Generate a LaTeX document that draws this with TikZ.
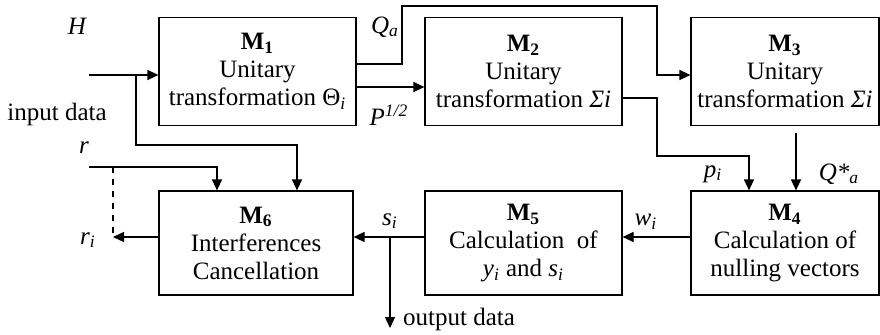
\documentclass[tikz,border=0pt]{standalone}
\usepackage{fontspec}
\setmainfont{Liberation Serif}
\usetikzlibrary{arrows.meta}
\tikzset{
  module/.style={draw,semithick,minimum height=54pt,inner sep=0pt,align=center,font=\fontsize{12.5}{14}\selectfont},
  lbl/.style={inner sep=0pt,font=\fontsize{12.5}{14}\selectfont\itshape},
}
\begin{document}
\begin{tikzpicture}[x=0.5pt,y=-0.5pt,>={Triangle[length=5.5pt,width=5pt]},semithick]
    \useasboundingbox (0,0) rectangle (880,334);
    \node[module,minimum width=98.5pt] (m1) at (257.5,71.5) {\textbf{M\textsubscript{1}}\\Unitary\\transformation Θ\textsubscript{\textit{i}}};
    \node[module,minimum width=98.5pt] (m2) at (523.5,71.5) {\textbf{M\textsubscript{2}}\\Unitary\\transformation \textit{Σi}};
    \node[module,minimum width=94pt] (m3) at (785,71.5) {\textbf{M\textsubscript{3}}\\Unitary\\transformation \textit{Σi}};
    \node[module,minimum width=97pt,minimum height=52pt] (m6) at (256,243) {\textbf{M\textsubscript{6}}\\Interferences\\Cancellation};
    \node[module,minimum width=98.5pt,minimum height=52pt] (m5) at (523.5,243) {\textbf{M\textsubscript{5}}\\Calculation\ \ of\\\textit{y}\textsubscript{\textit{i}} and \textit{s}\textsubscript{\textit{i}}};
    \node[module,minimum width=94pt,minimum height=52pt] (m4) at (785,243) {\textbf{M\textsubscript{4}}\\Calculation of\\nulling vectors};
    \node[lbl] (h) at (77,26) {H};
    \node[lbl,font=\fontsize{12.5}{14}\selectfont] (in) at (57,114) {input data};
    \node[lbl] (r) at (84,148) {r};
    \node[lbl] (ri) at (88,240) {r\textsubscript{i}};
    \node[lbl] (qa) at (385,27) {Q\textsubscript{a}};
    \node[lbl] (p) at (389,115) {P\textsuperscript{1/2}};
    \node[lbl] (pi) at (713,174) {p\textsubscript{i}};
    \node[lbl] (qs) at (839,174) {Q*\textsubscript{a}};
    \node[lbl] (wi) at (646,222) {w\textsubscript{i}};
    \node[lbl] (si) at (390,221) {s\textsubscript{i}};
    \node[lbl,font=\fontsize{12.5}{14}\selectfont] (out) at (459,319) {output data};
    \coordinate (hin) at (89,75);
    \coordinate (hj) at (136,75);
    \coordinate (hk) at (297,145);
    \coordinate (rin) at (89,167);
    \coordinate (rj) at (113,167);
    \coordinate (rk) at (217,167);
    \coordinate (sj) at (390,237);
    \coordinate (so) at (390,328);
    \draw[->] (hin) -- (m1.west |- hin);
    \draw[->] (hj) |- (hk) -- (hk |- m6.north);
    \draw[->] (m1.east |- 0,64) -| (402,6) -| (657,75) -- (m3.west |- 0,75);
    \draw[->] (m1.east |- 0,87) -- (m2.west |- 0,87);
    \draw[->] (m2.east |- 0,98) -| (657,156) -| (m4.north -| 749,0);
    \draw[->] (796,133) -- (m4.north -| 796,0);
    \draw[->] (m4.west |- 0,237) -- (m5.east |- 0,237);
    \draw[->] (m5.west |- 0,237) -- (m6.east |- 0,237);
    \draw[->] (sj) -- (so);
    \draw[->] (m6.west |- 0,237) -- (113,237);
    \draw[->] (rin) -- (rk) -- (rk |- m6.north);
    \draw[dashed] (rj) -- (113,237);
\end{tikzpicture}
\end{document}
